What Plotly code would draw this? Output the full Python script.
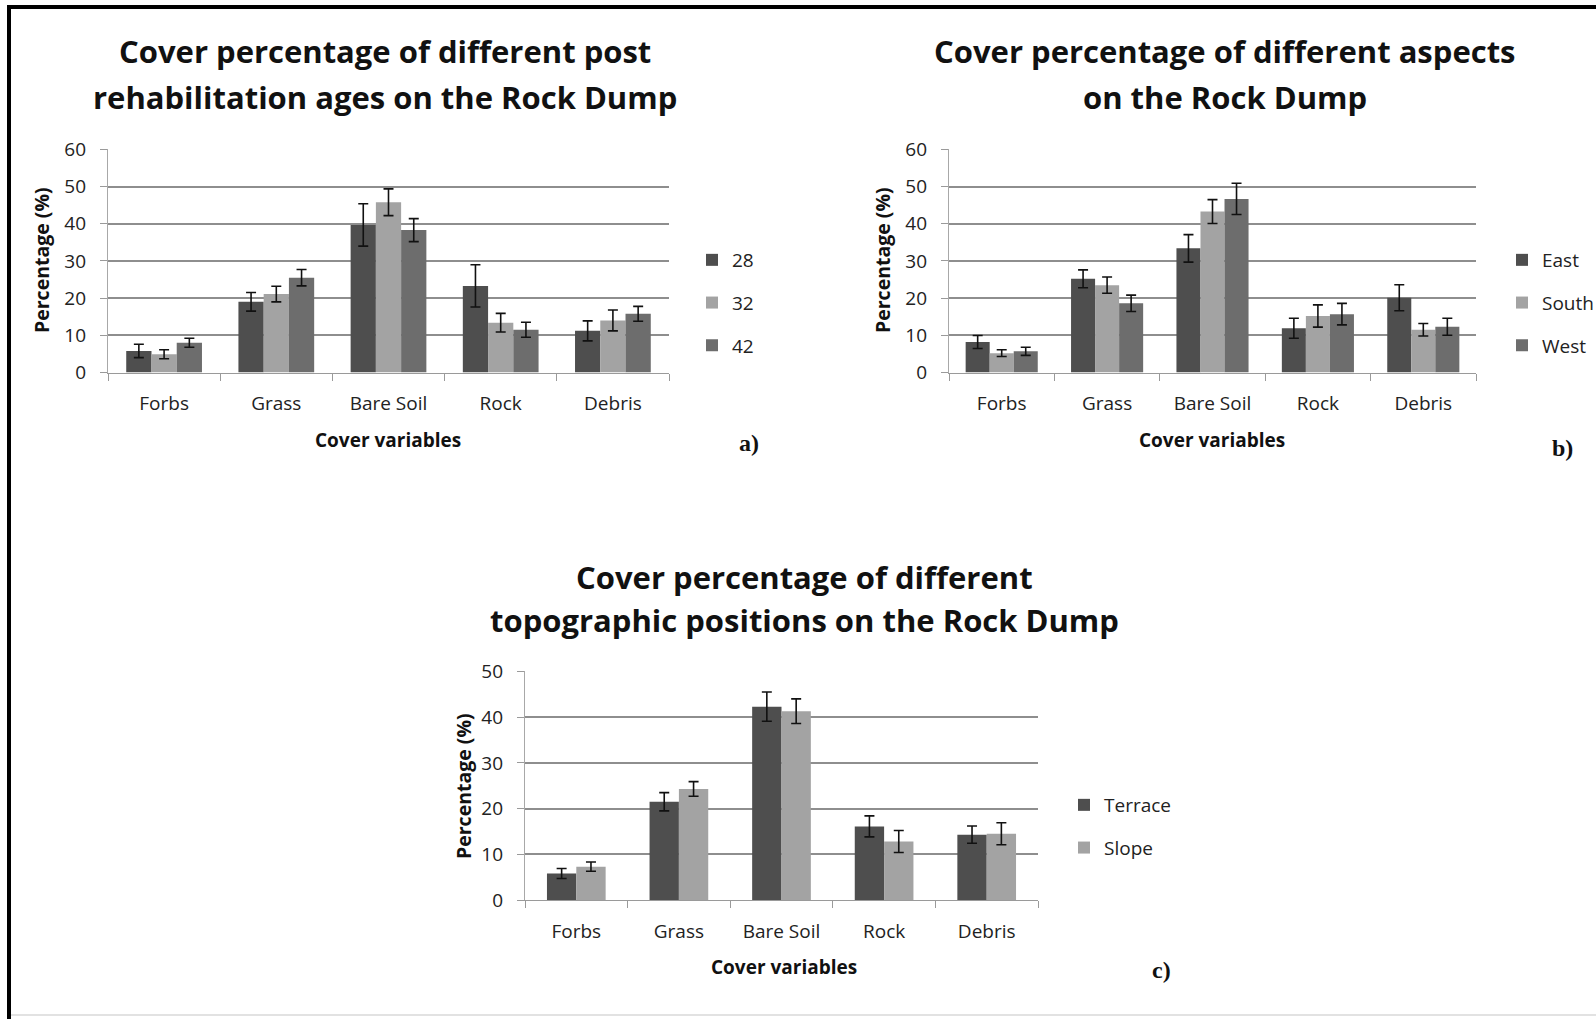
import plotly.graph_objects as go

# ---- data -------------------------------------------------------------
categories = ["Forbs", "Grass", "Bare Soil", "Rock", "Debris"]

# a) post rehabilitation age (years)
age_28 = [5.8, 19.0, 39.7, 23.3, 11.2]
age_28_err = [1.8, 2.5, 5.7, 5.7, 2.7]
age_32 = [4.9, 21.1, 45.8, 13.4, 14.0]
age_32_err = [1.2, 2.1, 3.6, 2.5, 2.8]
age_42 = [8.0, 25.5, 38.3, 11.5, 15.8]
age_42_err = [1.2, 2.2, 3.1, 2.0, 2.0]

# b) aspect
east = [8.2, 25.2, 33.4, 11.9, 20.1]
east_err = [1.75, 2.4, 3.7, 2.7, 3.5]
south = [5.2, 23.5, 43.3, 15.2, 11.5]
south_err = [0.9, 2.2, 3.2, 3.0, 1.7]
west = [5.7, 18.6, 46.7, 15.7, 12.3]
west_err = [1.1, 2.2, 4.2, 2.9, 2.3]

# c) topographic position
terrace = [5.8, 21.5, 42.3, 16.1, 14.3]
terrace_err = [1.1, 2.0, 3.2, 2.3, 1.9]
slope = [7.3, 24.3, 41.3, 12.8, 14.5]
slope_err = [1.0, 1.6, 2.7, 2.4, 2.4]

# ---- styling ----------------------------------------------------------
W, H = 1596, 1019
DARK, LIGHT, MID = "#4e4e4e", "#a3a3a3", "#6d6d6d"
FONT = "Open Sans"
GRID = "#8e8e8e"


def fx(p):
    return p / W


def fy(p):
    return 1 - p / H


fig = go.Figure()


def add_series(name, vals, errs, color, xa, ya, width, offset, legend):
    fig.add_trace(go.Bar(
        x=categories, y=vals, name=name,
        marker=dict(color=color, line=dict(width=0)),
        width=width, offset=offset,
        error_y=dict(type="data", array=errs, visible=True,
                     color="#111111", thickness=1.6, width=5),
        xaxis=xa, yaxis=ya, legend=legend, legendgroup=legend + name,
    ))


wa = 0.225
add_series("28", age_28, age_28_err, DARK, "x", "y", wa, -1.5 * wa, "legend")
add_series("32", age_32, age_32_err, LIGHT, "x", "y", wa, -0.5 * wa, "legend")
add_series("42", age_42, age_42_err, MID, "x", "y", wa, 0.5 * wa, "legend")

wb = 0.228
add_series("East", east, east_err, DARK, "x2", "y2", wb, -1.5 * wb, "legend2")
add_series("South", south, south_err, LIGHT, "x2", "y2", wb, -0.5 * wb, "legend2")
add_series("West", west, west_err, MID, "x2", "y2", wb, 0.5 * wb, "legend2")

wc = 0.286
add_series("Terrace", terrace, terrace_err, DARK, "x3", "y3", wc, -wc, "legend3")
add_series("Slope", slope, slope_err, LIGHT, "x3", "y3", wc, 0.0, "legend3")


def xaxis_style(domain, anchor):
    return dict(
        domain=domain, anchor=anchor, type="category",
        categoryorder="array", categoryarray=categories,
        tickson="boundaries", ticks="outside", ticklen=7, tickcolor="#9a9a9a",
        showline=True, linecolor="#9a9a9a", linewidth=1.2,
        showgrid=False, ticklabelstandoff=14,
        tickfont=dict(family=FONT, size=19, color="#222222"),
        fixedrange=True,
    )


def yaxis_style(domain, anchor, top):
    # range topped up a hair so the gridline at the top value is drawn
    return dict(
        domain=domain, anchor=anchor, range=[0, top * 1.002], dtick=10,
        ticks="outside", ticklen=7, tickcolor="#9a9a9a",
        showline=True, linecolor="#a8a8a8", linewidth=1.2,
        showgrid=True, gridcolor=GRID, gridwidth=1.6, zeroline=False,
        ticklabelstandoff=10,
        tickfont=dict(family=FONT, size=19, color="#222222"),
        fixedrange=True,
    )


def legend_style(x, ytop):
    return dict(
        x=fx(x), y=fy(ytop), xanchor="left", yanchor="top",
        xref="paper", yref="paper",
        font=dict(family=FONT, size=19, color="#222222"),
        bgcolor="rgba(0,0,0,0)", borderwidth=0,
        tracegroupgap=15, itemwidth=30, itemclick=False,
    )


annotations = []


def text(x, y, s, size, family=FONT, angle=0):
    annotations.append(dict(
        x=fx(x), y=fy(y), xref="paper", yref="paper", text=s, showarrow=False,
        xanchor="center", yanchor="middle", textangle=angle,
        font=dict(family=family, size=size, color="#111111"),
    ))


# panel titles
text(385, 51, "<b>Cover percentage of different post</b>", 31)
text(385, 97, "<b>rehabilitation ages on the Rock Dump</b>", 31)
text(1225, 51, "<b>Cover percentage of different aspects</b>", 31)
text(1225, 97, "<b>on the Rock Dump</b>", 31)
text(804, 577, "<b>Cover percentage of different</b>", 31)
text(804, 620, "<b>topographic positions on the Rock Dump</b>", 31)

# axis titles
text(388, 440, "<b>Cover variables</b>", 19)
text(1212, 440, "<b>Cover variables</b>", 19)
text(784, 967, "<b>Cover variables</b>", 19)
text(41, 260, "<b>Percentage (%)</b>", 19.5, angle=-90)
text(882, 260, "<b>Percentage (%)</b>", 19.5, angle=-90)
text(463, 786, "<b>Percentage (%)</b>", 19.5, angle=-90)

# panel letters
text(749, 443, "<b>a)</b>", 24, family="Liberation Serif")
text(1562, 448, "<b>b)</b>", 24, family="Liberation Serif")
text(1161, 970, "<b>c)</b>", 24, family="Liberation Serif")

# outer frame
shapes = [
    dict(type="line", xref="paper", yref="paper",
         x0=fx(7), x1=1, y0=fy(7), y1=fy(7), line=dict(color="#000000", width=4)),
    dict(type="line", xref="paper", yref="paper",
         x0=fx(9), x1=fx(9), y0=fy(5), y1=0, line=dict(color="#000000", width=4)),
    dict(type="line", xref="paper", yref="paper",
         x0=fx(11), x1=1, y0=fy(1015), y1=fy(1015), line=dict(color="#e2e2e2", width=2)),
]

fig.update_layout(
    width=W, height=H, autosize=False,
    margin=dict(l=0, r=0, t=0, b=0, pad=0, autoexpand=False),
    paper_bgcolor="white", plot_bgcolor="white",
    barmode="overlay", showlegend=True,
    xaxis=xaxis_style([fx(108), fx(669)], "y"),
    yaxis=yaxis_style([fy(372.5), fy(149)], "x", 60),
    xaxis2=xaxis_style([fx(949), fx(1476)], "y2"),
    yaxis2=yaxis_style([fy(372.5), fy(149)], "x2", 60),
    xaxis3=xaxis_style([fx(525), fx(1038)], "y3"),
    yaxis3=yaxis_style([fy(900), fy(671)], "x3", 50),
    legend=legend_style(692, 241),
    legend2=legend_style(1502, 241),
    legend3=legend_style(1064, 786),
    annotations=annotations,
    shapes=shapes,
)

fig.write_html("out.html")
